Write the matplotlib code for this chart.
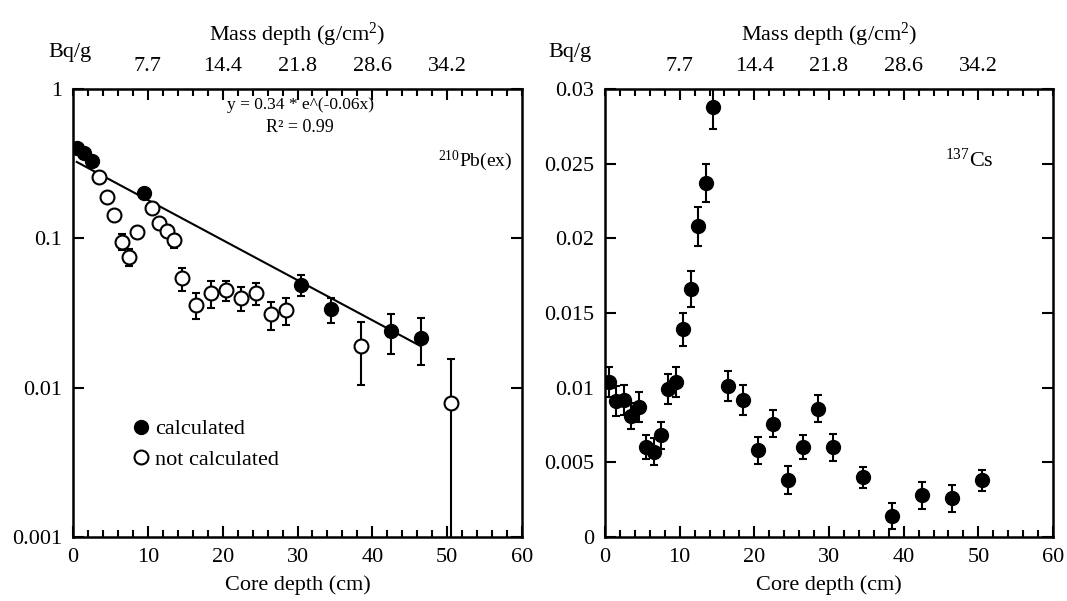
import numpy as np
import matplotlib
matplotlib.use('Agg')
import matplotlib.pyplot as plt
from matplotlib.ticker import MultipleLocator, NullLocator, FixedLocator
from matplotlib.lines import Line2D

plt.rcParams['font.family'] = ['Liberation Serif', 'DejaVu Serif']
plt.rcParams['mathtext.fontset'] = 'custom'
plt.rcParams['mathtext.rm'] = 'Liberation Serif'
plt.rcParams['mathtext.default'] = 'regular'

# 210Pb(ex), core depth (cm) -> activity (Bq/g)
pb_calc_depth = [0.5, 1.5, 2.5, 9.5, 30.5, 34.5, 42.5, 46.5]
pb_calc_val = [0.40, 0.37, 0.33, 0.20, 0.049, 0.0334, 0.0239, 0.0216]
pb_calc_err = [0.01, 0.01, 0.01, 0.01, 0.0077, 0.0065, 0.007, 0.0075]

pb_not_depth = [3.5, 4.5, 5.5, 6.5, 7.5, 8.5, 10.5, 11.5, 12.5, 13.5, 14.5,
                16.5, 18.5, 20.5, 22.5, 24.5, 26.5, 28.5, 38.5, 50.5]
pb_not_val = [0.256, 0.19, 0.143, 0.095, 0.075, 0.11, 0.159, 0.126, 0.112, 0.097, 0.054,
              0.036, 0.043, 0.045, 0.040, 0.043, 0.031, 0.033, 0.0191, 0.0079]
pb_not_err = [0.01, 0.01, 0.01, 0.0115, 0.0094, 0.01, 0.01, 0.01, 0.01, 0.0105, 0.0097,
              0.007, 0.009, 0.0068, 0.0075, 0.0075, 0.0067, 0.0066, 0.0086, 0.0076]

# exponential fit of calculated points
fit_a = 0.335
fit_b = 0.0618
fit_range = [0.5, 46.5]

# 137Cs
cs_depth = [0.5, 1.5, 2.5, 3.5, 4.5, 5.5, 6.5, 7.5, 8.5, 9.5, 10.5, 11.5, 12.5, 13.5, 14.5,
            16.5, 18.5, 20.5, 22.5, 24.5, 26.5, 28.5, 30.5, 34.5, 38.5, 42.5, 46.5, 50.5]
cs_val = [0.0104, 0.0091, 0.0092, 0.0081, 0.0087, 0.0060, 0.0057, 0.0068, 0.0099, 0.0104,
          0.0139, 0.0166, 0.0208, 0.0237, 0.0288, 0.0101, 0.0092, 0.0058, 0.0076, 0.0038,
          0.0060, 0.0086, 0.0060, 0.0040, 0.0014, 0.0028, 0.0026, 0.0038]
cs_err = [0.001, 0.001, 0.001, 0.0009, 0.001, 0.0008, 0.0009, 0.0009, 0.001, 0.001,
          0.0011, 0.0012, 0.0013, 0.0013, 0.0015, 0.001, 0.001, 0.0009, 0.0009, 0.00095,
          0.0008, 0.0009, 0.0009, 0.0007, 0.00085, 0.0009, 0.0009, 0.0007]

cs_ticks = [0, 0.005, 0.01, 0.015, 0.02, 0.025, 0.03]
cs_tick_lab = ['0', '0.005', '0.01', '0.015', '0.02', '0.025', '0.03']
pb_ticks = [0.001, 0.01, 0.1, 1]
pb_tick_lab = ['0.001', '0.01', '0.1', '1']

# top axis: mass depth at core depth ticks
mass_tick_pos = [10, 20, 30, 40, 50]
mass_tick_lab = ['7.7', '14.4', '21.8', '28.6', '34.2']

fs = 16
ms = 10

fig = plt.figure(figsize=(10.67, 6.01), dpi=100)
ax1 = fig.add_axes([73/1067, 64/601, 449/1067, 448/601])
ax2 = fig.add_axes([605/1067, 64/601, 448/1067, 448/601])


def style_axes(ax):
    ax.set_xlim(0, 60)
    ax.xaxis.set_major_locator(MultipleLocator(10))
    ax.xaxis.set_minor_locator(MultipleLocator(2))
    ax.tick_params(which='both', direction='in', top=False, right=True,
                   labelsize=fs, width=1.5, pad=8)
    ax.tick_params(which='major', length=8)
    ax.tick_params(which='minor', length=5)
    for s in ax.spines.values():
        s.set_linewidth(1.8)
    ax.set_xlabel('Core depth (cm)', fontsize=fs, labelpad=6)
    sec = ax.secondary_xaxis('top')
    sec.xaxis.set_major_locator(FixedLocator(mass_tick_pos))
    sec.set_xticklabels(mass_tick_lab)
    sec.xaxis.set_minor_locator(MultipleLocator(2))
    sec.tick_params(which='both', direction='in', labelsize=fs, width=1.5, pad=9)
    sec.tick_params(which='major', length=8)
    sec.tick_params(which='minor', length=5)
    sec.set_xlabel('Mass depth (g/cm$^2$)', fontsize=fs, labelpad=12)
    return sec


# left panel
style_axes(ax1)
ax1.set_yscale('log')
ax1.set_ylim(0.001, 1)
ax1.set_yticks(pb_ticks)
ax1.set_yticklabels(pb_tick_lab)
ax1.yaxis.set_minor_locator(NullLocator())

xf = np.linspace(fit_range[0], fit_range[1], 100)
ax1.plot(xf, fit_a * np.exp(-fit_b * xf), color='black', lw=1.5, zorder=2)

ax1.errorbar(pb_calc_depth, pb_calc_val, yerr=pb_calc_err, fmt='none',
             ecolor='black', elinewidth=1.5, capsize=3, capthick=1.5, zorder=3)
ax1.errorbar(pb_not_depth, pb_not_val, yerr=pb_not_err, fmt='none',
             ecolor='black', elinewidth=1.5, capsize=3, capthick=1.5, zorder=3)
ax1.plot(pb_calc_depth, pb_calc_val, 'o', ms=ms, mfc='black', mec='black', zorder=4)
ax1.plot(pb_not_depth, pb_not_val, 'o', ms=ms, mfc='white', mec='black', mew=1.5, zorder=4)

ax1.text(0.506, 0.965, 'y = 0.34 * e^(-0.06x)', transform=ax1.transAxes,
         ha='center', va='center', fontsize=12.5)
ax1.text(0.506, 0.915, 'R² = 0.99', transform=ax1.transAxes,
         ha='center', va='center', fontsize=13)
ax1.text(0.812, 0.84, r'$^{210}$Pb(ex)', transform=ax1.transAxes,
         ha='left', va='center', fontsize=14)

handles = [Line2D([], [], ls='none', marker='o', ms=ms, mfc='black', mec='black'),
           Line2D([], [], ls='none', marker='o', ms=ms, mfc='white', mec='black', mew=1.5)]
ax1.legend(handles, ['calculated', 'not calculated'], loc='lower left',
           bbox_to_anchor=(0.078, 0.125), frameon=False, fontsize=fs,
           handletextpad=-0.4, labelspacing=0.45, borderpad=0)

# right panel
style_axes(ax2)
ax2.set_ylim(0, 0.03)
ax2.set_yticks(cs_ticks)
ax2.set_yticklabels(cs_tick_lab)
ax2.yaxis.set_minor_locator(NullLocator())

ax2.errorbar(cs_depth, cs_val, yerr=cs_err, fmt='none', ecolor='black',
             elinewidth=1.5, capsize=3, capthick=1.5, zorder=3)
ax2.plot(cs_depth, cs_val, 'o', ms=ms, mfc='black', mec='black', zorder=4)
ax2.text(0.76, 0.84, r'$^{137}$Cs', transform=ax2.transAxes,
         ha='left', va='center', fontsize=fs)

fig.text(48/1067, 1 - 52/601, 'Bq/g', fontsize=fs, ha='left', va='center')
fig.text(548/1067, 1 - 52/601, 'Bq/g', fontsize=fs, ha='left', va='center')

fig.savefig('out.png', dpi=100)
